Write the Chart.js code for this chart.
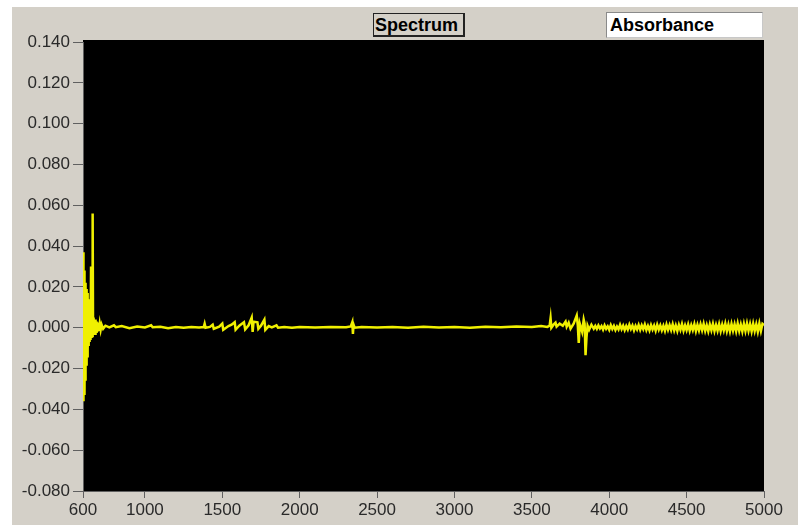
<!DOCTYPE html>
<html>
<head>
<meta charset="utf-8">
<script src="https://cdn.jsdelivr.net/npm/chart.js@4.4.0/dist/chart.umd.min.js"></script>
<style>
    body { margin: 0; background: #fff; }
    #wrap { position: relative; width: 798px; height: 525px; overflow: hidden; }
    canvas { position: absolute; left: 0; top: 0; }
    .box {
        position: absolute;
        font: bold 18px "Liberation Sans", Arial, sans-serif;
        color: #000;
        line-height: 22px;
        box-sizing: border-box;
        white-space: nowrap;
    }
    #spectrum {
        left: 373px; top: 13px; width: 92px; height: 24px;
        background: #d4d0c8;
        border: 1px solid #222; border-right-width: 2px; border-bottom-width: 2px;
        padding-left: 1px;
    }
    #absorb {
        left: 606px; top: 12px; width: 157px; height: 26px;
        background: #fff;
        border: 1px solid #8a8a8a; border-right-color: #c8c8c8; border-bottom-color: #c8c8c8;
        padding-left: 3px; line-height: 24px;
    }
</style>
</head>
<body>
<div id="wrap">
    <canvas id="chartSpectrum" width="798" height="525"></canvas>
    <div class="box" id="spectrum">Spectrum</div>
    <div class="box" id="absorb">Absorbance</div>
</div>
<script>
// Spectrum data

// main part of the spectrum, 600 - 3900
const wavenumbers = [
    600, 601, 602, 603, 604, 605, 607, 608, 610, 611,
    613, 614, 616, 617, 619, 620, 622, 623, 625, 626,
    628, 629, 631, 632, 634, 635, 637, 638, 640, 641,
    643, 644, 646, 647, 649, 650, 652, 653, 655, 656,
    658, 659, 661, 662, 664, 665, 667, 668, 670, 672,
    675, 678, 681, 684, 688, 692, 697, 702, 708, 714,
    720, 730, 745,
    770, 800, 812, 850, 900, 950, 1000, 1040, 1050, 1100,
    1150, 1200, 1250, 1300, 1350,
    1380, 1386, 1392, 1420, 1438, 1445, 1480, 1500, 1506, 1540,
    1560, 1580, 1586, 1610, 1640, 1648, 1670, 1690, 1696, 1702,
    1727, 1733, 1750, 1772, 1778, 1800, 1820, 1850, 1860, 1900,
    1950, 2000, 2100, 2200, 2300, 2330, 2340, 2344, 2348, 2355,
    2400, 2500, 2600, 2700, 2800, 2900, 3000, 3100, 3200, 3300,
    3400, 3500, 3560, 3600,
    3615, 3621, 3626, 3640, 3653, 3660, 3680, 3700, 3718, 3725,
    3738, 3750, 3770, 3790, 3797, 3803, 3810, 3825, 3835, 3841,
    3847, 3853, 3860, 3870, 3885, 3900
];

const absorbance = [
    0.037, -0.036, 0.034, -0.036, 0.031, -0.035, 0.028, -0.033, 0.025, -0.031,
    0.022, -0.026, 0.021, -0.020, 0.020, -0.018, 0.019, -0.016, 0.018, -0.014,
    0.017, -0.012, 0.016, -0.011, 0.014, -0.009, 0.012, -0.008, 0.011, -0.007,
    0.010, -0.006, 0.009, -0.006, 0.008, -0.005, 0.030, -0.005, 0.008, -0.004,
    0.007, -0.004, 0.006, -0.003, 0.056, -0.003, 0.005, -0.003, 0.005, -0.003,
    0.004, -0.003, 0.004, -0.002, 0.003, -0.002, 0.0025, -0.0015, 0.002, -0.001,
    0.0015, -0.0005, 0.001,
    0.0002, 0.0012, 0.0003, 0.0008, -0.0002, 0.0006, 0.0001, 0.0012, 0.0002, 0.0005,
    -0.0003, 0.0004, 0.0, 0.0004, 0.0001,
    0.0003, 0.002, 0.0, 0.0004, 0.0015, -0.0005, 0.0005, 0.002, -0.001, 0.0008,
    0.0015, 0.0027, -0.001, 0.001, 0.0027, -0.0008, 0.0012, 0.005, -0.002, 0.003,
    0.0027, -0.0005, 0.001, 0.004, -0.001, 0.0008, 0.0002, 0.0012, 0.0, 0.0004,
    0.0, 0.0004, 0.0001, 0.0004, 0.0002, 0.0006, 0.0027, -0.003, 0.0015, 0.0,
    0.0004, 0.0001, 0.0004, 0.0, 0.0005, 0.0001, 0.0004, 0.0, 0.0005, 0.0002,
    0.0006, 0.0003, 0.0008, 0.0004,
    0.001, 0.0046, 0.0, 0.0015, 0.0025, 0.0005, 0.002, 0.001, 0.003, 0.0005,
    0.0025, -0.0005, 0.002, 0.006, 0.001, -0.0075, 0.002, -0.002, 0.004, 0.002,
    -0.0135, -0.005, 0.001, -0.001, 0.0015, -0.0005
];

// noisy tail, 3910 - 5000
const tailWavenumbers = [
    3910, 3920, 3930, 3940, 3950, 3960, 3970, 3980, 3990, 4000,
    4010, 4020, 4030, 4040, 4050, 4060, 4070, 4080, 4090, 4100,
    4110, 4120, 4130, 4140, 4150, 4160, 4170, 4180, 4190, 4200,
    4210, 4220, 4230, 4240, 4250, 4260, 4270, 4280, 4290, 4300,
    4310, 4320, 4330, 4340, 4350, 4360, 4370, 4380, 4390, 4400,
    4410, 4420, 4430, 4440, 4450, 4460, 4470, 4480, 4490, 4500,
    4510, 4520, 4530, 4540, 4550, 4560, 4570, 4580, 4590, 4600,
    4610, 4620, 4630, 4640, 4650, 4660, 4670, 4680, 4690, 4700,
    4710, 4720, 4730, 4740, 4750, 4760, 4770, 4780, 4790, 4800,
    4810, 4820, 4830, 4840, 4850, 4860, 4870, 4880, 4890, 4900,
    4910, 4920, 4930, 4940, 4950, 4960, 4970, 4980, 4990, 5000
];

const tailAbsorbance = [
    0.0009, -0.0006, 0.0011, -0.0004, 0.0008, -0.0009, 0.0012, -0.0005, 0.0007, -0.0010,
    0.0013, -0.0006, 0.0009, -0.0011, 0.0006, -0.0008, 0.0014, -0.0007, 0.0010, -0.0012,
    0.0008, -0.0009, 0.0015, -0.0006, 0.0011, -0.0013, 0.0009, -0.0008, 0.0014, -0.0010,
    0.0012, -0.0007, 0.0016, -0.0011, 0.0009, -0.0013, 0.0013, -0.0008, 0.0011, -0.0014,
    0.0015, -0.0009, 0.0012, -0.0012, 0.0010, -0.0015, 0.0016, -0.0010, 0.0013, -0.0011,
    0.0017, -0.0013, 0.0011, -0.0016, 0.0014, -0.0010, 0.0018, -0.0014, 0.0012, -0.0012,
    0.0016, -0.0015, 0.0013, -0.0011, 0.0018, -0.0016, 0.0014, -0.0013, 0.0017, -0.0012,
    0.0019, -0.0015, 0.0013, -0.0017, 0.0016, -0.0012, 0.0019, -0.0016, 0.0014, -0.0014,
    0.0018, -0.0017, 0.0015, -0.0013, 0.0020, -0.0016, 0.0016, -0.0018, 0.0019, -0.0014,
    0.0017, -0.0017, 0.0021, -0.0015, 0.0016, -0.0018, 0.0019, -0.0016, 0.0021, -0.0015,
    0.0018, -0.0018, 0.0020, -0.0016, 0.0017, -0.0019, 0.0021, -0.0016, 0.0019, 0.0012
];

const xTickValues = [600, 1000, 1500, 2000, 2500, 3000, 3500, 4000, 4500, 5000];

// ----- ----- ----- ----- -----

const panelBackground = {
    id: "panelBackground",
    beforeDraw: (chart) => {
        const ctx = chart.ctx;
        const a = chart.chartArea;
        ctx.save();
        ctx.fillStyle = "#ffffff";
        ctx.fillRect(0, 0, chart.width, chart.height);
        ctx.fillStyle = "#d4d0c8";
        ctx.fillRect(12, 7, chart.width - 12, chart.height - 7);
        ctx.fillStyle = "#000000";
        ctx.fillRect(a.left, a.top - 2, a.right - a.left, a.bottom - a.top + 3);
        ctx.restore();
    },
};

setupChart = () => {
    const allX = wavenumbers.concat(tailWavenumbers);
    const allY = absorbance.concat(tailAbsorbance);
    const points = allX.map((w, i) => ({ x: w, y: allY[i] }));

    const tickFont = { family: "'Liberation Sans', Arial, sans-serif", size: 17 };

    const config = {
        type: "line",
        data: {
            datasets: [
                {
                    label: "Absorbance",
                    data: points,
                    borderColor: "#f0f000",
                    borderWidth: 2.5,
                    pointRadius: 0,
                    tension: 0,
                },
            ],
        },
        options: {
            responsive: false,
            animation: false,
            devicePixelRatio: 1,
            layout: { padding: { left: 0, top: 42, right: 34, bottom: 0 } },
            plugins: {
                legend: { display: false },
                tooltip: { enabled: false },
            },
            scales: {
                x: {
                    type: "linear",
                    min: 600,
                    max: 5000,
                    afterBuildTicks: (axis) => {
                        axis.ticks = xTickValues.map((v) => ({ value: v }));
                    },
                    afterFit: (axis) => { axis.height = 34; },
                    grid: {
                        drawOnChartArea: false,
                        drawTicks: true,
                        tickLength: 7,
                        color: "#606060",
                    },
                    border: { display: true, color: "#606060" },
                    ticks: {
                        color: "#2a2a2a",
                        font: tickFont,
                        padding: 2,
                        maxRotation: 0,
                        autoSkip: false,
                        callback: (v) => String(v),
                    },
                },
                y: {
                    min: -0.08,
                    max: 0.14,
                    afterFit: (axis) => { axis.width = 83; },
                    grid: {
                        drawOnChartArea: false,
                        drawTicks: true,
                        tickLength: 10,
                        color: "#606060",
                    },
                    border: { display: true, color: "#606060" },
                    ticks: {
                        stepSize: 0.02,
                        color: "#2a2a2a",
                        font: tickFont,
                        padding: 3,
                        callback: (v) => v.toFixed(3),
                    },
                },
            },
        },
        plugins: [panelBackground],
    };

    let ctx = document.getElementById("chartSpectrum");

    let spectrumChart = new Chart(ctx, config);
};

setupChart();
</script>
</body>
</html>
